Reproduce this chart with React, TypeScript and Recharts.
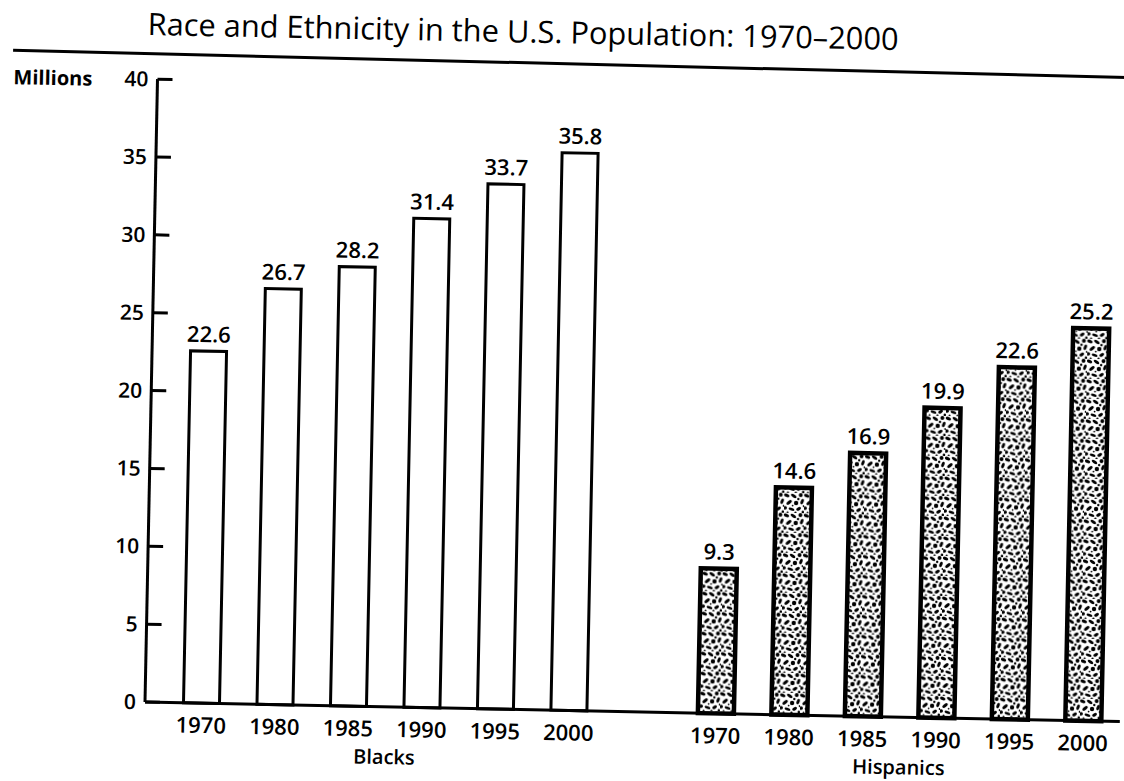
import React from 'react';
import { BarChart, Bar, XAxis, YAxis, LabelList, ReferenceArea, Label } from 'recharts';

const years = ['1970', '1980', '1985', '1990', '1995', '2000'];
const blacksValues = [22.6, 26.7, 28.2, 31.4, 33.7, 35.8];
const hispanicsValues = [9.3, 14.6, 16.9, 19.9, 22.6, 25.2];
const groupNames = ['Blacks', 'Hispanics'];
const yTicks = [0, 5, 10, 15, 20, 25, 30, 35, 40];
const title = 'Race and Ethnicity in the U.S. Population: 1970–2000';
const unitLabel = 'Millions';

const data = [
  ...years.map((y, i) => ({ key: `B-${y}`, blacks: blacksValues[i] })),
  { key: 'gap' },
  ...years.map((y, i) => ({ key: `H-${y}`, hispanics: hispanicsValues[i] })),
];

const FONT = '"Open Sans", "DejaVu Sans", sans-serif';

const YTick = (props: any) => {
  const { x, y, payload } = props;
  return (
    <g>
      <text x={x} y={y} dy={7.5} textAnchor="end" fontFamily={FONT} fontSize={21} fontWeight={600} fill="#000">
        {payload.value}
      </text>
      <line x1={x + 9} x2={x + 24} y1={y} y2={y} stroke="#000" strokeWidth={3} />
    </g>
  );
};

const XTick = (props: any) => {
  const { x, y, payload } = props;
  const parts = String(payload.value).split('-');
  const label = parts.length > 1 ? parts[1] : '';
  return (
    <text x={x} y={y + 28} textAnchor="middle" fontFamily={FONT} fontSize={22} fontWeight={600} fill="#000">
      {label}
    </text>
  );
};

const labelStyle = { fontFamily: FONT, fontSize: 22, fontWeight: 600, fill: '#000' };

export default function App() {
  return (
    <div
      style={{
        position: 'absolute',
        left: 0,
        top: 0,
        width: 1124,
        height: 781,
        background: '#fff',
        transform: 'rotate(1.15deg)',
        transformOrigin: '145px 702px',
      }}
    >
      <BarChart
        width={1124}
        height={781}
        data={data}
        margin={{ top: 79, right: 4, bottom: 0, left: 0 }}
      >
        <defs>
          <pattern id="stipple" patternUnits="userSpaceOnUse" width="20" height="20">
            <rect width="20" height="20" fill="#fff" />
            <ellipse cx="2.5" cy="2.5" rx="2.8" ry="1.6" transform="rotate(20 2.5 2.5)" fill="#000" />
            <ellipse cx="9.5" cy="3" rx="3.2" ry="1.4" transform="rotate(35 9.5 3)" fill="#000" />
            <circle cx="16.5" cy="2" r="2" fill="#000" />
            <ellipse cx="18" cy="8.5" rx="2.8" ry="1.5" transform="rotate(-70 18 8.5)" fill="#000" />
            <ellipse cx="5" cy="9.5" rx="3.2" ry="1.5" transform="rotate(-40 5 9.5)" fill="#000" />
            <circle cx="12" cy="10" r="2.2" fill="#000" />
            <circle cx="1.2" cy="15" r="1.8" fill="#000" />
            <ellipse cx="7.5" cy="16.2" rx="3.1" ry="1.4" transform="rotate(20 7.5 16.2)" fill="#000" />
            <ellipse cx="14.6" cy="15.8" rx="2.6" ry="1.6" transform="rotate(-30 14.6 15.8)" fill="#000" />
            <circle cx="19" cy="19" r="1.4" fill="#000" />
            <circle cx="11.5" cy="19.6" r="1.1" fill="#000" />
            <circle cx="3.6" cy="19.6" r="1" fill="#000" />
            <circle cx="14.2" cy="6" r="1.2" fill="#000" />
            <circle cx="19.6" cy="13" r="1" fill="#000" />
            <circle cx="8.6" cy="12.6" r="0.9" fill="#000" />
          </pattern>
        </defs>
        <XAxis
          dataKey="key"
          interval={0}
          padding={{ left: 19.5, right: 0 }}
          height={79}
          axisLine={{ stroke: '#000', strokeWidth: 3 }}
          tickLine={false}
          tickSize={0}
          tick={<XTick />}
        />
        <YAxis
          domain={[0, 40]}
          ticks={yTicks}
          width={145}
          interval={0}
          axisLine={{ stroke: '#000', strokeWidth: 3 }}
          tickLine={false}
          tickSize={0}
          tickMargin={9}
          tick={<YTick />}
        />
        <ReferenceArea x1="B-1970" x2="B-2000" y1={0} y2={40} fill="none" stroke="none" ifOverflow="visible">
          <Label value={groupNames[0]} position="bottom" offset={43} style={{ ...labelStyle, fontSize: 20 }} />
        </ReferenceArea>
        <ReferenceArea x1="H-1970" x2="H-2000" y1={0} y2={40} fill="none" stroke="none" ifOverflow="visible">
          <Label value={groupNames[1]} position="bottom" offset={43} style={{ ...labelStyle, fontSize: 20 }} />
        </ReferenceArea>
        <Bar dataKey="blacks" stackId="s" barSize={36} fill="#fff" stroke="#000" strokeWidth={3} isAnimationActive={false}>
          <LabelList dataKey="blacks" position="top" offset={9} style={labelStyle} />
        </Bar>
        <Bar dataKey="hispanics" stackId="s" barSize={35} fill="url(#stipple)" stroke="#000" strokeWidth={4.5} isAnimationActive={false}>
          <LabelList dataKey="hispanics" position="top" offset={9} style={labelStyle} />
        </Bar>
      </BarChart>
      <svg
        width={1124}
        height={781}
        style={{ position: 'absolute', left: 0, top: 0, pointerEvents: 'none' }}
      >
        <text x={134} y={35} fontFamily={FONT} fontSize={30.8} fill="#000">
          {title}
        </text>
        <line x1={0} y1={53} x2={1124} y2={58} stroke="#000" strokeWidth={3} />
        <text x={1} y={87} fontFamily={FONT} fontSize={20} fontWeight={700} fill="#000">
          {unitLabel}
        </text>
      </svg>
    </div>
  );
}
